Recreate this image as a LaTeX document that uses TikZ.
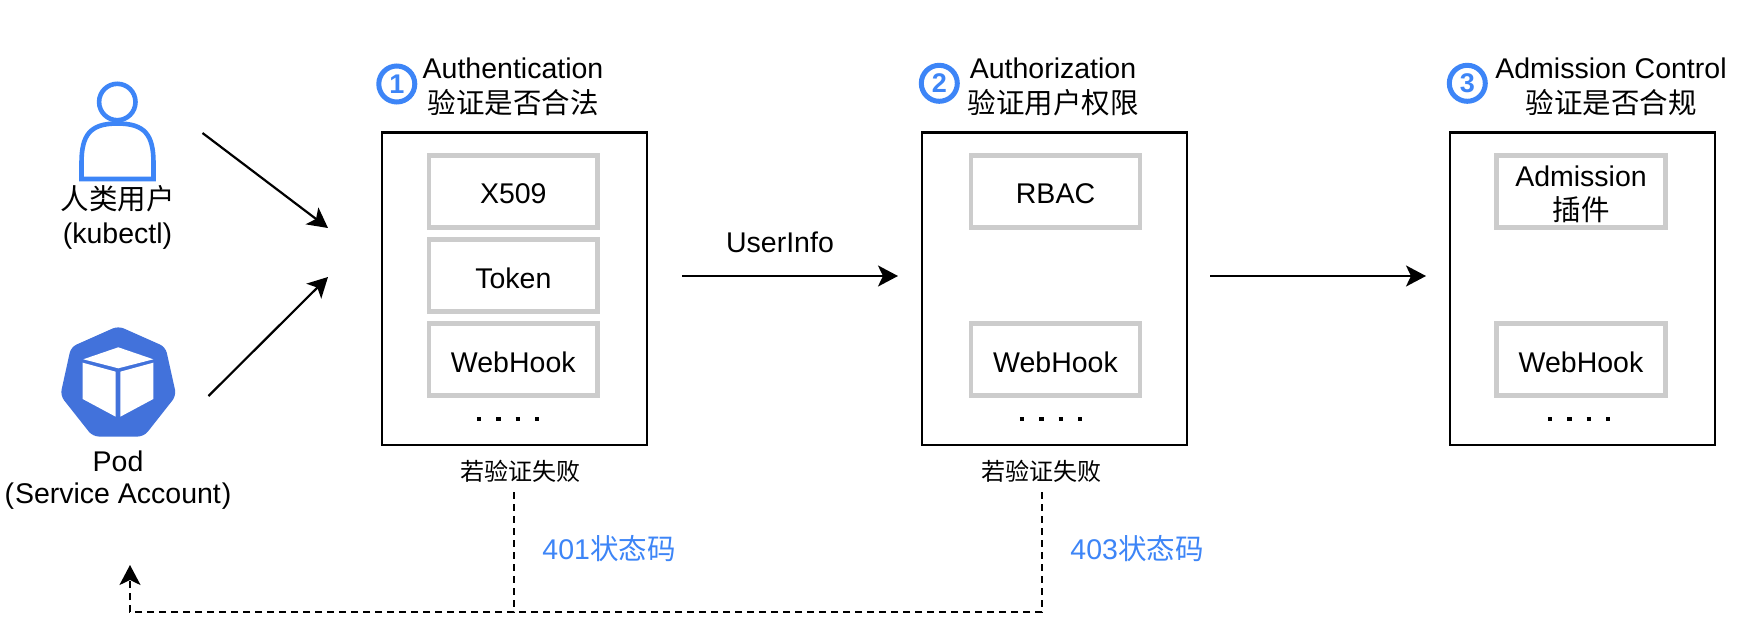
\documentclass[tikz,border=0pt]{standalone}
\usepackage{fontspec}
\setmainfont{Liberation Sans}
\newfontfamily\cjk{Noto Sans CJK SC}
\usetikzlibrary{arrows.meta}
\definecolor{accent}{HTML}{3D85F7}
\definecolor{podblue}{HTML}{4272DB}
\definecolor{innergray}{HTML}{CCCCCC}
\newcommand{\lbl}{\fontsize{28.5}{33}\selectfont}
\newcommand{\lblsmall}{\fontsize{24}{28}\selectfont}
\newcommand{\dn}[1]{\raisebox{-2.4pt}[\height][\depth]{#1}}
\tikzset{
  x=1pt,y=-1pt,
  outerbox/.style={draw=black,line width=2.4pt,minimum width=265pt,minimum height=312.7pt,inner sep=0pt},
  innerbox/.style={draw=innergray,line width=4.6pt,minimum width=168.7pt,minimum height=72.4pt,inner sep=0pt,font=\lbl,align=center},
  txt/.style={inner sep=0pt,font=\lbl,align=center},
  smalltxt/.style={inner sep=0pt,font=\lblsmall\cjk},
  codetxt/.style={inner sep=0pt,font=\lbl,text=accent},
  badge/.style={circle,draw=accent,line width=5pt,minimum size=36pt,inner sep=0pt,text=accent,font=\fontsize{27}{27}\selectfont\bfseries},
  flow/.style={draw=black,line width=2.2pt,-{Stealth[length=20pt,width=21pt,inset=5pt]}},
  fail/.style={draw=black,line width=2pt,dash pattern=on 7pt off 5pt},
  more/.style={draw=black,line width=4.4pt,dash pattern=on 4.4pt off 15pt},
}
\begin{document}
\begin{tikzpicture}
\path[use as bounding box,fill=white] (0,0) rectangle (1754,642);

% person icon
\draw[accent,line width=4.6pt] (117.3,102) circle (18.2);
\draw[accent,line width=4.6pt,line join=miter]
  (81.5,179) -- (81.5,163) .. controls (81.5,135) and (90,123.5) .. (117.3,123.5)
  .. controls (145,123.5) and (153.5,135) .. (153.5,163) -- (153.5,179) -- cycle;
\node[txt] (user) at (117.5,217.5) {{\cjk 人类用户}\\[1.5pt](kubectl)};

% pod icon
\fill[podblue,rounded corners=6pt]
  (118.3,326) -- (165.5,347) -- (176.3,395.5) -- (144,436.5) -- (92.7,436.5) -- (60.3,395.5) -- (71,347) -- cycle;
\fill[white] (83.3,359.3) -- (118.3,347.3) -- (153.3,359.3) -- (118.3,368.3) -- cycle;
\fill[white] (82.7,362.7) -- (115.7,371.7) -- (115.7,416.7) -- (82.7,399) -- cycle;
\fill[white] (120.3,371.7) -- (153.3,362.7) -- (153.3,399) -- (120.3,416.7) -- cycle;
\node[txt] (pod) at (118,480) {Pod\\[-0.8pt]({\kern1pt}Service Account{\kern1pt})};

% stage boxes
\node[outerbox] (stageA) at (514.2,288.7) {};
\node[outerbox] (stageB) at (1054.2,288.7) {};
\node[outerbox] (stageC) at (1582.3,288.7) {};

% stage 1
\node[innerbox] (x509) at (513.3,191.5) {\dn{X509}};
\node[innerbox] (token) at (513.3,275.5) {\dn{Token}};
\node[innerbox] (hookA) at (513.3,359.5) {\dn{WebHook}};
% stage 2
\node[innerbox] (rbac) at (1055.5,191.5) {\dn{RBAC}};
\node[innerbox] (hookB) at (1055.5,359.5) {\dn{WebHook}};
% stage 3
\node[innerbox] (admit) at (1581,191.5) {\raisebox{-5.5pt}[\height][\depth]{\begin{tabular}{@{}c@{}}Admission\\{\cjk 插件}\end{tabular}}};
\node[innerbox] (hookC) at (1581,359.5) {\dn{WebHook}};

% more dots
\coordinate (moreA1) at (476.8,419); \coordinate (moreA2) at (540,419);
\coordinate (moreB1) at (1019.8,419); \coordinate (moreB2) at (1083,419);
\coordinate (moreC1) at (1547.8,419); \coordinate (moreC2) at (1611,419);
\draw[more] (moreA1) -- (moreA2);
\draw[more] (moreB1) -- (moreB2);
\draw[more] (moreC1) -- (moreC2);

% titles
\node[txt] (titleA) at (513,86.7) {Authentication\\[2.5pt]{\cjk 验证是否合法}};
\node[txt] (titleB) at (1053,86.7) {Authorization\\[2.5pt]{\cjk 验证用户权限}};
\node[txt] (titleC) at (1611,86.7) {Admission Control\\[2.5pt]{\cjk 验证是否合规}};
\node[badge] (oneB) at (396.8,84) {1};
\node[badge] (twoB) at (939.3,83.3) {2};
\node[badge] (threeB) at (1467.3,83.3) {3};

% flow arrows
\coordinate (userOut) at (202.5,133);
\coordinate (userIn) at (328,228);
\coordinate (podOut) at (208.5,396);
\coordinate (podIn) at (328,277);
\draw[flow] (userOut) -- (userIn);
\draw[flow] (podOut) -- (podIn);

\coordinate (infoOut) at (682,276);
\coordinate (infoIn) at (898,276);
\draw[flow] (infoOut) -- (infoIn);
\node[txt] (info) at (780,242) {UserInfo};
\coordinate (passOut) at (1210,276);
\coordinate (passIn) at (1426,276);
\draw[flow] (passOut) -- (passIn);

% failure path
\node[smalltxt] (failA) at (520,471) {若验证失败};
\node[smalltxt] (failB) at (1041,471) {若验证失败};
\node[codetxt] (code401) at (609,549) {401{\cjk 状态码}};
\node[codetxt] (code403) at (1137,549) {403{\cjk 状态码}};
\coordinate (dropA) at (514,492);
\coordinate (dropB) at (1042,492);
\coordinate (baseA) at (514,612);
\coordinate (baseB) at (1042,612);
\coordinate (back) at (130,565);
\draw[fail,-{Stealth[length=20pt,width=21pt,inset=5pt]}] (dropA) -- (baseA) -| (back);
\draw[fail] (dropB) -- (baseB) -- (baseA);
\end{tikzpicture}
\end{document}
